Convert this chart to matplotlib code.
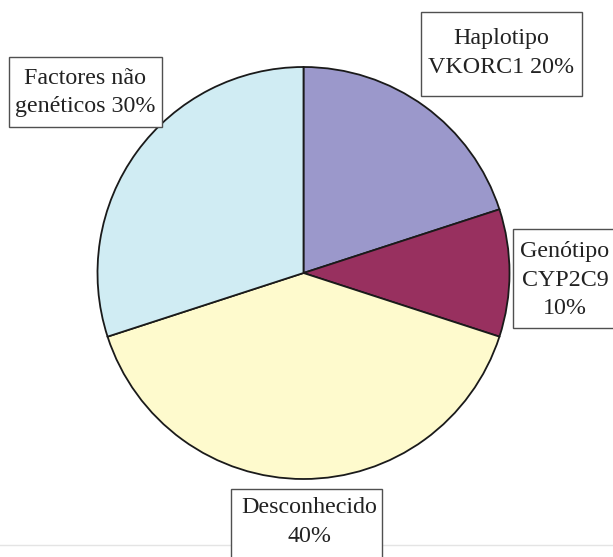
import matplotlib.pyplot as plt
from matplotlib.patches import Rectangle
from matplotlib.lines import Line2D

# data
labels = ['Haplotipo\nVKORC1 20%', 'Genótipo\nCYP2C9\n10%', 'Desconhecido\n40%', 'Factores não\ngenéticos 30%']
values = [20, 10, 40, 30]
colors = ['#9b98cb', '#98305f', '#fefacd', '#d0ecf3']

plt.rcParams['font.family'] = ['Liberation Serif', 'DejaVu Serif']

W, H = 613, 557
fig = plt.figure(figsize=(W / 100, H / 100), dpi=100)
ax = fig.add_axes([0, 0, 1, 1])

# faint line near bottom
ax.add_line(Line2D([0, W], [H - 545, H - 545], color='#e4e4e4', lw=1, zorder=0))

ax.pie(values, colors=colors, startangle=90, counterclock=False,
       center=(303.5, H - 273), radius=206, frame=True,
       wedgeprops=dict(edgecolor='#1a1a1a', linewidth=1.3))
ax.set_xlim(0, W)
ax.set_ylim(0, H)
ax.set_aspect('equal')
ax.axis('off')

# label boxes: (left, top, right, bottom) in pixels, text centre
boxes = [(421, 12, 582, 96), (513, 229, 640, 328), (231, 489, 382, 600), (9, 57, 162, 127)]
centers = [(501, 53), (565, 280), (309, 522), (85, 92.5)]

for lab, (l, t, r, b), (cx, cy) in zip(labels, boxes, centers):
    ax.add_patch(Rectangle((l, H - b), r - l, b - t, facecolor='white',
                           edgecolor='#505050', lw=1, zorder=3))
    ax.text(cx, H - cy, lab, ha='center', va='center', multialignment='center',
            fontsize=17.3, color='#222222', linespacing=1.45, zorder=4)

fig.savefig('out.png', dpi=100)
